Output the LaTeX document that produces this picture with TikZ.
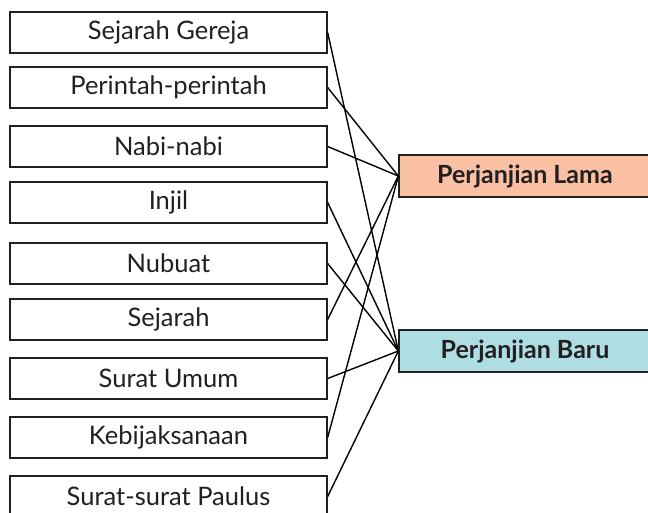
\documentclass[tikz,border=0pt]{standalone}
\usepackage{fontspec}
\setmainfont{Lato}
\definecolor{lamafill}{HTML}{F9C0A3}
\definecolor{barufill}{HTML}{AEDDE3}
\definecolor{tinta}{HTML}{231F20}
\begin{document}
\begin{tikzpicture}[x=1pt,y=-1pt,
  kotak/.style={draw=tinta,line width=1.3pt,minimum width=317pt,minimum height=41pt,inner sep=0pt,text=tinta,font=\fontsize{25.5}{30}\selectfont},
  testamen/.style={kotak,minimum width=252pt,minimum height=42pt,font=\bfseries\fontsize{25}{30}\selectfont},
  garis/.style={line width=1.4pt}]

\useasboundingbox (0,0) rectangle (648,513);
\clip (0,0) rectangle (648,513);

\node[kotak] (gereja) at (168.5,32.5) {Sejarah Gereja};
\node[kotak] (perintah) at (168.5,87.5) {Perintah-perintah};
\node[kotak] (nabi) at (168.5,146.5) {Nabi-nabi};
\node[kotak] (injil) at (168.5,202.5) {Injil};
\node[kotak] (nubuat) at (168.5,263.5) {Nubuat};
\node[kotak] (sejarah) at (168.5,319.5) {Sejarah};
\node[kotak] (umum) at (168.5,378.5) {Surat Umum};
\node[kotak] (hikmat) at (168.5,437.5) {Kebijaksanaan};
\node[kotak] (paulus) at (168.5,496.5) {Surat-surat Paulus};

\node[testamen,fill=lamafill] (lama) at (525,176) {Perjanjian Lama};
\node[testamen,fill=barufill] (baru) at (525,351) {Perjanjian Baru};

\draw[garis] (perintah.east) -- (lama.west);
\draw[garis] (nabi.east) -- (lama.west);
\draw[garis] (sejarah.east) -- (lama.west);
\draw[garis] (hikmat.east) -- (lama.west);

\draw[garis] (gereja.east) -- (baru.west);
\draw[garis] (injil.east) -- (baru.west);
\draw[garis] (nubuat.east) -- (baru.west);
\draw[garis] (umum.east) -- (baru.west);
\draw[garis] (paulus.east) -- (baru.west);
\end{tikzpicture}
\end{document}
